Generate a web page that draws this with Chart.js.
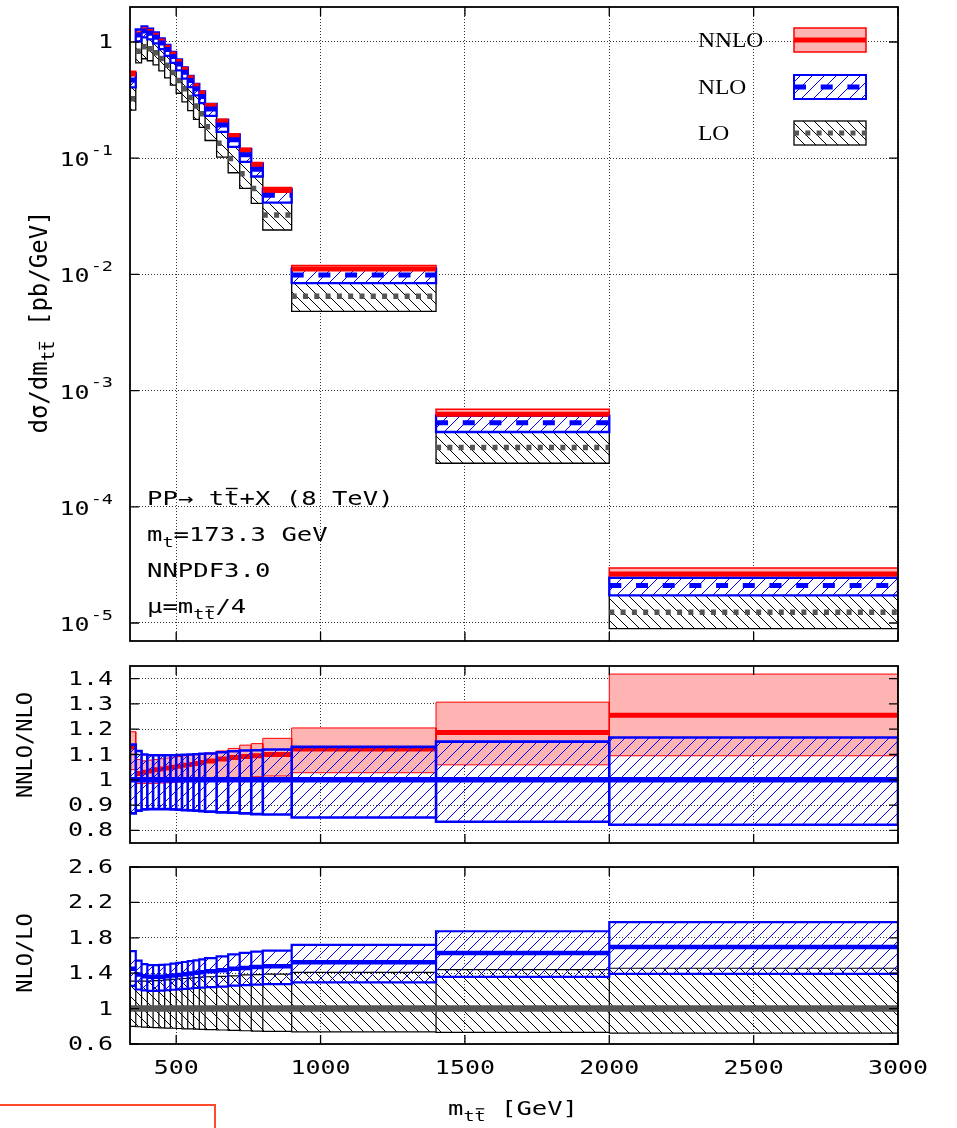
<!DOCTYPE html>
<html>
<head>
<meta charset="utf-8">
<title>ttbar invariant mass distribution</title>
<script src="https://cdn.jsdelivr.net/npm/chart.js@4.4.1/dist/chart.umd.min.js"></script>
<style>
  body { margin: 0; background: #fff; }
  #page { position: relative; width: 957px; height: 1128px; overflow: hidden; background: #fff; }
  #page canvas { position: absolute; left: 0; }
  #stamp { position: absolute; left: -4px; top: 1104px; width: 216px; height: 40px; border: 2px solid #ff4a2e; }
</style>
</head>
<body>
<div id="page">
  <canvas id="xsec" width="957" height="655" style="top:0px"></canvas>
  <canvas id="nnloRatio" width="957" height="200" style="top:655px"></canvas>
  <canvas id="nloRatio" width="957" height="273" style="top:855px"></canvas>
  <div id="stamp"></div>
</div>
<script>
const MONO = '"DejaVu Sans Mono", monospace';
const SERIF = '"Liberation Serif", serif';
const RED = '#ff0000', PINK = '#ffb4b4', BLUE = '#0000ff', GREY = '#555555';
const GRID = 'rgba(0,0,0,0.8)';

// m_tt bins [GeV]
const binEdges = [340, 360, 380, 400, 420, 440, 460, 480, 500, 520, 540, 560, 580, 600,
                  640, 680, 720, 760, 800, 900, 1400, 2000, 3000];

// NLO dsigma/dm_tt [pb/GeV], one value per bin
const nloXsec = [0.47, 1.15, 1.24, 1.19, 1.10, 0.98, 0.86, 0.75, 0.645, 0.55, 0.465, 0.395, 0.34,
                 0.265, 0.193, 0.144, 0.107, 0.0805, 0.048, 0.0099, 5.28e-4, 2.1e-5];

// NNLO / NLO: central value and scale band
const nnloOverNlo     = [1.13, 1.025, 1.03, 1.035, 1.04, 1.043, 1.047, 1.05, 1.054, 1.057, 1.06, 1.064, 1.068,
                         1.074, 1.082, 1.088, 1.092, 1.095, 1.10, 1.122, 1.187, 1.255];
const nnloOverNloHigh = [1.19, 1.08, 1.075, 1.078, 1.08, 1.083, 1.086, 1.089, 1.092, 1.095, 1.098, 1.10, 1.102,
                         1.106, 1.114, 1.124, 1.137, 1.143, 1.164, 1.205, 1.307, 1.418];
const nnloOverNloLow  = [1.04, 0.985, 0.985, 0.985, 0.986, 0.987, 0.988, 0.99, 0.991, 0.993, 0.995, 0.997, 0.999,
                         1.0, 1.003, 1.006, 1.009, 1.012, 1.015, 1.028, 1.059, 1.095];

// NLO scale band relative to NLO central
const nloBandHigh = [1.139, 1.114, 1.10, 1.097, 1.097, 1.097, 1.097, 1.097, 1.098, 1.099, 1.10, 1.101, 1.103,
                     1.104, 1.109, 1.113, 1.116, 1.117, 1.12, 1.13, 1.151, 1.167];
const nloBandLow  = [0.867, 0.878, 0.883, 0.884, 0.884, 0.884, 0.884, 0.883, 0.882, 0.88, 0.879, 0.878, 0.876,
                     0.874, 0.871, 0.87, 0.867, 0.864, 0.863, 0.851, 0.834, 0.822];

// NLO / LO central
const nloOverLo = [1.449, 1.385, 1.366, 1.359, 1.359, 1.361, 1.366, 1.374, 1.381, 1.389, 1.396, 1.404, 1.411,
                   1.422, 1.434, 1.449, 1.46, 1.471, 1.478, 1.523, 1.628, 1.695];

// LO scale band relative to LO central
const loBandHigh = [1.31, 1.31, 1.31, 1.31, 1.315, 1.32, 1.325, 1.33, 1.335, 1.34, 1.345, 1.35, 1.355,
                    1.36, 1.365, 1.37, 1.38, 1.385, 1.39, 1.41, 1.441, 1.456];
const loBandLow  = [0.80, 0.795, 0.79, 0.787, 0.785, 0.782, 0.78, 0.778, 0.775, 0.772, 0.77, 0.768, 0.765,
                    0.762, 0.758, 0.754, 0.75, 0.746, 0.742, 0.738, 0.731, 0.723];

// axis ticks
const xTicks = [500, 1000, 1500, 2000, 2500, 3000];
const xsecTicks = [1e-5, 1e-4, 1e-3, 1e-2, 1e-1, 1];
const nnloRatioTicks = [0.8, 0.9, 1, 1.1, 1.2, 1.3, 1.4];
const nloRatioTicks = [0.6, 1, 1.4, 1.8, 2.2, 2.6];

const legendLabels = ['NNLO', 'NLO', 'LO'];
const infoLines = [
  [{text: 'PP\u2192 t'}, {text: 't', bar: true}, {text: '+X (8 TeV)'}],
  [{text: 'm'}, {text: 't', sub: true}, {text: '=173.3 GeV'}],
  [{text: 'NNPDF3.0'}],
  [{text: '\u03bc=m'}, {text: 'tt', sub: true, bar: true}, {text: '/4'}]
];

// ---- helpers ----
const times = (a, b) => a.map((v, i) => v * b[i]);
const loXsec = nloXsec.map((v, i) => v / nloOverLo[i]);
const ones = nloXsec.map(() => 1);

// closed rectangle per bin, separated by gaps
function boxPoints(lo, hi) {
  const pts = [];
  for (let i = 0; i < lo.length; i++) {
    const x0 = binEdges[i], x1 = binEdges[i + 1];
    pts.push({x: x0, y: lo[i]}, {x: x0, y: hi[i]}, {x: x1, y: hi[i]},
             {x: x1, y: lo[i]}, {x: x0, y: lo[i]}, {x: x0, y: null});
  }
  return pts;
}
// flat segment per bin
function stepPoints(vals) {
  const pts = [];
  for (let i = 0; i < vals.length; i++) {
    pts.push({x: binEdges[i], y: vals[i]}, {x: binEdges[i + 1], y: vals[i]}, {x: binEdges[i + 1], y: null});
  }
  return pts;
}

function hatch(color, dir, size, bg) {
  const c = document.createElement('canvas');
  c.width = c.height = size;
  const g = c.getContext('2d');
  if (bg) { g.fillStyle = bg; g.fillRect(0, 0, size, size); }
  g.strokeStyle = color;
  g.lineWidth = 1;
  g.beginPath();
  if (dir > 0) {
    g.moveTo(-1, size + 1); g.lineTo(size + 1, -1);
    g.moveTo(-1, 1); g.lineTo(1, -1);
    g.moveTo(size - 1, size + 1); g.lineTo(size + 1, size - 1);
  } else {
    g.moveTo(-1, -1); g.lineTo(size + 1, size + 1);
    g.moveTo(size - 1, -1); g.lineTo(size + 1, 1);
    g.moveTo(-1, size - 1); g.lineTo(1, size + 1);
  }
  g.stroke();
  return g.createPattern(c, 'repeat');
}

function band(label, data, color, width, fill, order) {
  return {type: 'line', label, data, borderColor: color, borderWidth: width, backgroundColor: fill,
          fill: 'shape', pointRadius: 0, tension: 0, spanGaps: false, order,
          borderJoinStyle: 'miter', borderCapStyle: 'square'};
}
function central(label, data, color, width, dash, order) {
  return {type: 'line', label, data, borderColor: color, borderWidth: width, borderDash: dash || [],
          fill: false, pointRadius: 0, tension: 0, spanGaps: false, order, borderCapStyle: 'butt'};
}

function textAt(ctx, text, x, y, size, align, family, sx) {
  ctx.save();
  ctx.translate(x, y);
  ctx.scale(sx, 1);
  ctx.font = `${size}px ${family}`;
  ctx.textAlign = align;
  ctx.textBaseline = 'middle';
  ctx.fillStyle = '#000';
  ctx.fillText(text, 0, 0);
  ctx.restore();
}

// text with subscripts and overlined letters, baseline at y
function richText(ctx, parts, x, y, size, align, sx) {
  ctx.save();
  ctx.translate(x, y);
  ctx.scale(sx, 1);
  ctx.textAlign = 'left';
  ctx.textBaseline = 'alphabetic';
  ctx.fillStyle = '#000';
  const subSize = size * 0.72;
  const w = parts.map(p => {
    ctx.font = `${p.sub ? subSize : size}px ${MONO}`;
    return ctx.measureText(p.text).width;
  });
  const total = w.reduce((a, b) => a + b, 0);
  let cx = align === 'center' ? -total / 2 : (align === 'right' ? -total : 0);
  parts.forEach((p, i) => {
    const s = p.sub ? subSize : size;
    const dy = p.sub ? size * 0.28 : 0;
    ctx.font = `${s}px ${MONO}`;
    ctx.fillText(p.text, cx, dy);
    if (p.bar) {
      const w1 = ctx.measureText(p.text.slice(0, -1)).width;
      const wl = w[i] - w1;
      ctx.fillRect(cx + w1 + wl * 0.12, dy - s * 0.86, wl * 0.76, Math.max(1.2, s * 0.07));
    }
    cx += w[i];
  });
  ctx.restore();
}

// frame with inward ticks on all four sides
const framePlugin = {
  id: 'frame',
  afterDraw(chart) {
    const {ctx, chartArea: a, scales: {x, y}} = chart;
    ctx.save();
    ctx.strokeStyle = '#000';
    ctx.lineWidth = 1.3;
    ctx.beginPath();
    x.ticks.forEach(t => {
      const px = x.getPixelForValue(t.value);
      ctx.moveTo(px, a.bottom); ctx.lineTo(px, a.bottom - 9);
      ctx.moveTo(px, a.top); ctx.lineTo(px, a.top + 9);
    });
    y.ticks.forEach(t => {
      const py = y.getPixelForValue(t.value);
      ctx.moveTo(a.left, py); ctx.lineTo(a.left + 9, py);
      ctx.moveTo(a.right, py); ctx.lineTo(a.right - 9, py);
    });
    ctx.stroke();
    ctx.lineWidth = 1.8;
    ctx.strokeRect(a.left, a.top, a.right - a.left, a.bottom - a.top);
    ctx.restore();
  }
};

// tick labels on the left axis, placed through the y scale
function yLabels(values, fmt) {
  return {
    id: 'yLabels',
    afterDraw(chart) {
      const {ctx, scales: {y}} = chart;
      values.forEach(v => textAt(ctx, fmt(v), 113, y.getPixelForValue(v) + 1, 19.5, 'right', MONO, 1.28));
    }
  };
}

function xScale(height) {
  return {
    type: 'linear', min: binEdges[0], max: binEdges[binEdges.length - 1],
    afterBuildTicks: s => { s.ticks = xTicks.map(v => ({value: v})); },
    afterFit: s => { s.height = height; },
    grid: {color: GRID, lineWidth: 1, drawTicks: false},
    border: {display: false, dash: [1, 2]},
    ticks: {display: false}
  };
}
function yScale(type, min, max, ticks) {
  return {
    type, min, max,
    afterBuildTicks: s => { s.ticks = ticks.map(v => ({value: v})); },
    afterFit: s => { s.width = 130; },
    grid: {color: GRID, lineWidth: 1, drawTicks: false},
    border: {display: false, dash: [1, 2]},
    ticks: {display: false}
  };
}

const baseOptions = (padTop, xHeight, yOpts) => ({
  responsive: false,
  animation: false,
  events: [],
  layout: {padding: {left: 0, right: 59, top: padTop, bottom: 0}},
  plugins: {legend: {display: false}, tooltip: {enabled: false}},
  scales: {x: xScale(xHeight), y: yOpts}
});

const nloPatternTop = hatch(BLUE, 1, 12, '#ffffff');
const loPatternTop = hatch('#000', -1, 11, '#ffffff');
const nloPattern = hatch(BLUE, 1, 12, null);
const loPattern = hatch('#000', -1, 11, null);

// ---- upper panel: dsigma/dm_tt ----
const xsecText = {
  id: 'xsecText',
  afterDraw(chart) {
    const {ctx, scales: {y}} = chart;
    // decade labels 10^n
    xsecTicks.forEach(v => {
      const py = y.getPixelForValue(v);
      const e = Math.round(Math.log10(v));
      if (e === 0) {
        textAt(ctx, '1', 113, py + 1, 19.5, 'right', MONO, 1.28);
      } else {
        const sup = '-' + (-e);
        ctx.font = `14.5px ${MONO}`;
        const ws = ctx.measureText(sup).width * 1.28;
        textAt(ctx, sup, 113, py - 7, 14.5, 'right', MONO, 1.28);
        textAt(ctx, '10', 113 - ws - 1, py + 3, 19.5, 'right', MONO, 1.28);
      }
    });
    // axis title
    ctx.save();
    ctx.translate(47, 322);
    ctx.rotate(-Math.PI / 2);
    richText(ctx, [{text: 'd\u03c3/dm'}, {text: 'tt', sub: true, bar: true}, {text: ' [pb/GeV]'}], 0, 0, 24, 'center', 1);
    ctx.restore();
    // process info
    infoLines.forEach((parts, i) => richText(ctx, parts, 147, 505 + i * 36, 20, 'left', 1.28));
    // legend
    const ys = [40, 87, 133];
    legendLabels.forEach((lab, i) => textAt(ctx, lab, 698, ys[i] + 1, 21, 'left', SERIF, 1.12));
    const sx0 = 794, sw = 72, sh = 24;
    ctx.save();
    // NNLO swatch
    ctx.fillStyle = PINK; ctx.fillRect(sx0, ys[0] - sh / 2, sw, sh);
    ctx.strokeStyle = RED; ctx.lineWidth = 1.5; ctx.strokeRect(sx0, ys[0] - sh / 2, sw, sh);
    ctx.lineWidth = 5; ctx.beginPath(); ctx.moveTo(sx0, ys[0]); ctx.lineTo(sx0 + sw, ys[0]); ctx.stroke();
    // NLO swatch
    ctx.fillStyle = nloPatternTop; ctx.fillRect(sx0, ys[1] - sh / 2, sw, sh);
    ctx.strokeStyle = BLUE; ctx.lineWidth = 2; ctx.strokeRect(sx0, ys[1] - sh / 2, sw, sh);
    ctx.lineWidth = 5; ctx.setLineDash([12, 14.7]);
    ctx.beginPath(); ctx.moveTo(sx0, ys[1]); ctx.lineTo(sx0 + sw, ys[1]); ctx.stroke();
    // LO swatch
    ctx.setLineDash([]);
    ctx.fillStyle = loPatternTop; ctx.fillRect(sx0, ys[2] - sh / 2, sw, sh);
    ctx.strokeStyle = '#000'; ctx.lineWidth = 1.3; ctx.strokeRect(sx0, ys[2] - sh / 2, sw, sh);
    ctx.strokeStyle = GREY; ctx.lineWidth = 5; ctx.setLineDash([5, 6.3]);
    ctx.beginPath(); ctx.moveTo(sx0, ys[2]); ctx.lineTo(sx0 + sw, ys[2]); ctx.stroke();
    ctx.restore();
  }
};

new Chart(document.getElementById('xsec'), {
  type: 'line',
  data: {
    datasets: [
      central('NLO', stepPoints(nloXsec), BLUE, 5, [12, 14.7], 1),
      central('NNLO', stepPoints(times(nloXsec, nnloOverNlo)), RED, 5, null, 2),
      band('NLO band', boxPoints(times(nloXsec, nloBandLow), times(nloXsec, nloBandHigh)), BLUE, 2.3, nloPatternTop, 3),
      band('NNLO band', boxPoints(times(nloXsec, nnloOverNloLow), times(nloXsec, nnloOverNloHigh)), RED, 1.5, PINK, 4),
      central('LO', stepPoints(loXsec), GREY, 5.5, [5, 6.3], 5),
      band('LO band', boxPoints(times(loXsec, loBandLow), times(loXsec, loBandHigh)), '#000', 1.3, loPatternTop, 6)
    ]
  },
  options: baseOptions(7, 14, yScale('logarithmic', 7e-6, 2, xsecTicks)),
  plugins: [framePlugin, xsecText]
});

// ---- middle panel: NNLO/NLO ----
const nnloRatioText = {
  id: 'nnloRatioText',
  afterDraw(chart) {
    const {ctx} = chart;
    ctx.save();
    ctx.translate(32, 745 - 655);
    ctx.rotate(-Math.PI / 2);
    richText(ctx, [{text: 'NNLO/NLO'}], 0, 0, 22, 'center', 1);
    ctx.restore();
  }
};

new Chart(document.getElementById('nnloRatio'), {
  type: 'line',
  data: {
    datasets: [
      central('NLO', stepPoints(ones), BLUE, 5.5, null, 1),
      band('NLO band', boxPoints(nloBandLow, nloBandHigh), BLUE, 2.6, nloPattern, 2),
      central('NNLO', stepPoints(nnloOverNlo), RED, 5, null, 3),
      band('NNLO band', boxPoints(nnloOverNloLow, nnloOverNloHigh), RED, 1, PINK, 4)
    ]
  },
  options: baseOptions(11, 12, yScale('linear', 0.75, 1.45, nnloRatioTicks)),
  plugins: [framePlugin, yLabels(nnloRatioTicks, v => String(v)), nnloRatioText]
});

// ---- lower panel: NLO/LO ----
const nloRatioText = {
  id: 'nloRatioText',
  afterDraw(chart) {
    const {ctx, scales: {x}, chartArea} = chart;
    ctx.save();
    ctx.translate(32, 953 - 855);
    ctx.rotate(-Math.PI / 2);
    richText(ctx, [{text: 'NLO/LO'}], 0, 0, 22, 'center', 1);
    ctx.restore();
    xTicks.forEach(v => textAt(ctx, String(v), x.getPixelForValue(v), chartArea.bottom + 25, 19.5, 'center', MONO, 1.28));
    richText(ctx, [{text: 'm'}, {text: 'tt', sub: true, bar: true}, {text: ' [GeV]'}], 513, 1115 - 855, 20, 'center', 1.28);
  }
};

new Chart(document.getElementById('nloRatio'), {
  type: 'line',
  data: {
    datasets: [
      central('NLO/LO', stepPoints(nloOverLo), BLUE, 4.5, null, 1),
      band('NLO band', boxPoints(times(nloOverLo, nloBandLow), times(nloOverLo, nloBandHigh)), BLUE, 2.2, nloPattern, 2),
      central('LO', stepPoints(ones), GREY, 6.5, null, 3),
      band('LO band', boxPoints(loBandLow, loBandHigh), '#000', 1.2, loPattern, 4)
    ]
  },
  options: baseOptions(12, 84, yScale('linear', 0.6, 2.6, nloRatioTicks)),
  plugins: [framePlugin, yLabels(nloRatioTicks, v => String(v)), nloRatioText]
});
</script>
</body>
</html>
